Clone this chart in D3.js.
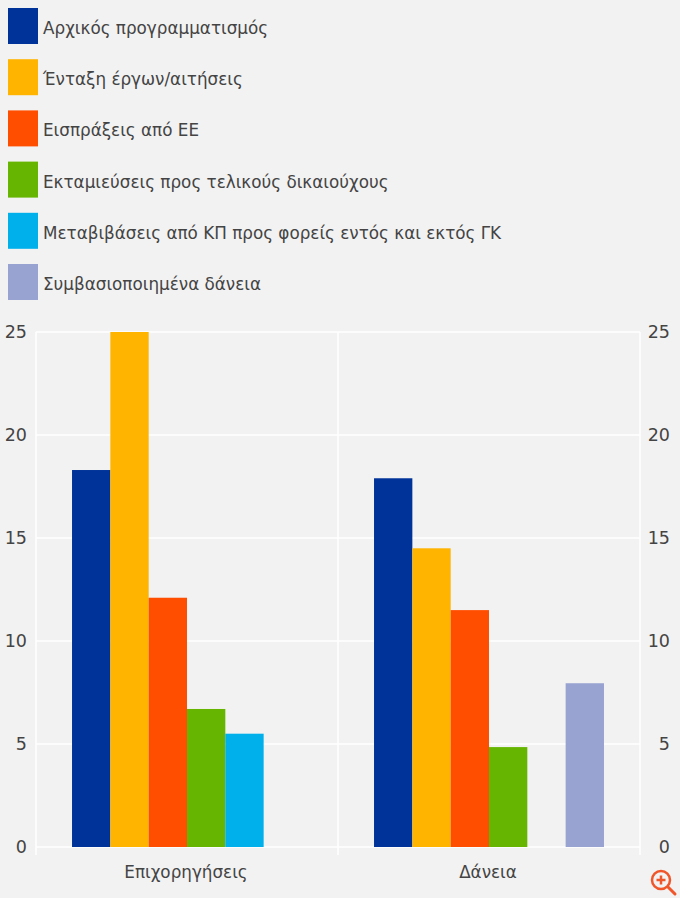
<!DOCTYPE html>
<html>
<head>
<meta charset="utf-8">
<script src="https://cdn.jsdelivr.net/npm/d3@7"></script>
<style>
  html, body { margin: 0; padding: 0; background: #f2f2f2; }
  text { font-family: "DejaVu Sans", sans-serif; fill: #444; }
  .legend-label { font-size: 16.8px; }
  .tick-label { font-size: 17.5px; }
  .cat-label { font-size: 16.8px; }
</style>
</head>
<body>
<div id="chart"></div>
<script>
// Data
const groups = ["Επιχορηγήσεις", "Δάνεια"];
const seriesNames = [
  "Αρχικός προγραμματισμός",
  "Ένταξη έργων/αιτήσεις",
  "Εισπράξεις από ΕΕ",
  "Εκταμιεύσεις προς τελικούς δικαιούχους",
  "Μεταβιβάσεις από ΚΠ προς φορείς εντός και εκτός ΓΚ",
  "Συμβασιοποιημένα δάνεια"
];
const seriesColors = ["#003399", "#ffb400", "#ff4e00", "#66b500", "#00b0eb", "#99a3d1"];
const grants = [18.3, 25, 12.1, 6.7, 5.5, null];
const loans = [17.9, 14.5, 11.5, 4.85, null, 7.95];
const yTicks = [0, 5, 10, 15, 20, 25];

// Plot constants
const WIDTH = 680, HEIGHT = 898;
const PLOT = { LEFT: 36, RIGHT: 640, TOP: 332, BOTTOM: 847 };

const svg = d3.select("#chart").append("svg")
  .attr("width", WIDTH)
  .attr("height", HEIGHT)
  .style("display", "block");

// Scales
const x0 = d3.scaleBand().domain(groups).range([PLOT.LEFT, PLOT.RIGHT]);
const x1 = d3.scaleBand().domain(seriesNames).range([0, x0.bandwidth()]).paddingOuter(0.94);
const y = d3.scaleLinear().domain([0, 25]).range([PLOT.BOTTOM, PLOT.TOP]);
const color = d3.scaleOrdinal().domain(seriesNames).range(seriesColors);
const legendY = d3.scalePoint().domain(seriesNames).range([8, 264]);

// Grid
svg.append("g").selectAll("line").data(yTicks).join("line")
  .attr("x1", PLOT.LEFT).attr("x2", PLOT.RIGHT)
  .attr("y1", d => y(d)).attr("y2", d => y(d))
  .attr("stroke", "#fff").attr("stroke-width", 1.5);

svg.append("g").selectAll("line").data([PLOT.LEFT, x0(groups[1]), PLOT.RIGHT]).join("line")
  .attr("x1", d => d).attr("x2", d => d)
  .attr("y1", PLOT.TOP).attr("y2", PLOT.BOTTOM + 8)
  .attr("stroke", "#fff").attr("stroke-width", 1.5);

// Bars
[grants, loans].forEach((values, i) => {
  svg.append("g")
    .attr("transform", "translate(" + x0(groups[i]) + ",0)")
    .selectAll("rect")
    .data(values.map((v, j) => ({ name: seriesNames[j], value: v })).filter(d => d.value !== null))
    .join("rect")
    .attr("x", d => x1(d.name))
    .attr("width", x1.bandwidth())
    .attr("y", d => y(d.value))
    .attr("height", d => y(0) - y(d.value))
    .attr("fill", d => color(d.name));
});

// Axis labels, both sides
[PLOT.LEFT - 9, PLOT.RIGHT + 30].forEach(tx => {
  svg.append("g").selectAll("text").data(yTicks).join("text")
    .attr("class", "tick-label")
    .attr("x", tx)
    .attr("y", d => y(d) + 6)
    .attr("text-anchor", "end")
    .text(d => d);
});

svg.append("g").selectAll("text").data(groups).join("text")
  .attr("class", "cat-label")
  .attr("x", d => x0(d) + x0.bandwidth() / 2 - 1)
  .attr("y", 878)
  .attr("text-anchor", "middle")
  .text(d => d);

// Legend
const legend = svg.append("g").selectAll("g").data(seriesNames).join("g")
  .attr("transform", d => "translate(8," + legendY(d) + ")");

legend.append("rect")
  .attr("width", 30)
  .attr("height", 36)
  .attr("fill", d => color(d));

legend.append("text")
  .attr("class", "legend-label")
  .attr("x", 35)
  .attr("y", 26)
  .text(d => d);

// Zoom icon, bottom right
const icon = svg.append("g")
  .attr("transform", "translate(661,880)")
  .attr("fill", "none")
  .attr("stroke", "#f0562a");
icon.append("circle").attr("r", 9).attr("stroke-width", 2.5);
icon.append("path").attr("d", "M7,7L14,14").attr("stroke-width", 3).attr("stroke-linecap", "round");
icon.append("path").attr("d", "M-4.5,0H4.5M0,-4.5V4.5").attr("stroke-width", 2.5);
</script>
</body>
</html>
